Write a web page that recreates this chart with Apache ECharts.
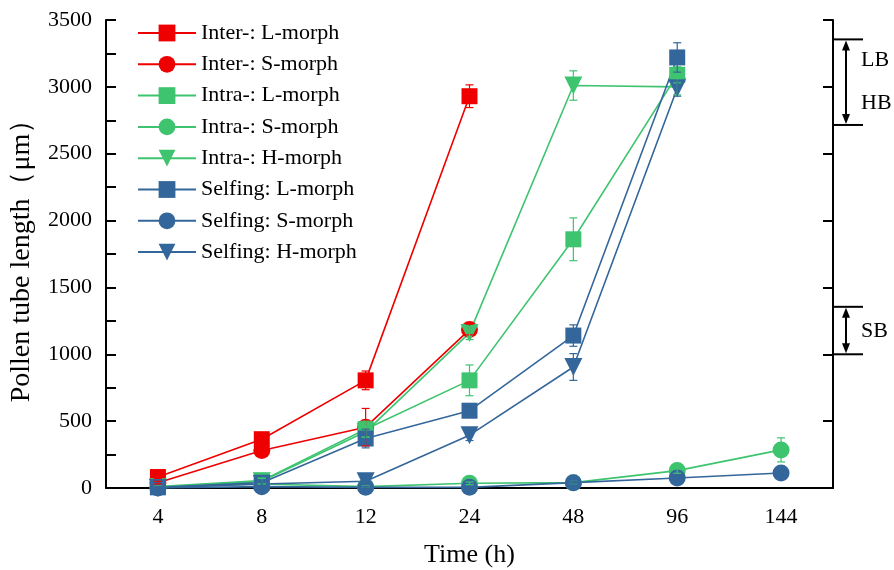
<!DOCTYPE html>
<html><head><meta charset="utf-8">
<script src="https://cdn.jsdelivr.net/npm/echarts@6/dist/echarts.min.js"></script>
<style>html,body{margin:0;padding:0;background:#fff}#c{width:894px;height:570px}</style>
</head><body><div id="c"></div>
<script>
const categories = ['4','8','12','24','48','96','144'];
const yTicks = [0,500,1000,1500,2000,2500,3000,3500];

const interL = [82, 365, 805, 2930];
const interS = [40, 280, 455, 1185];
const intraL = [10, 55, 440, 805, 1860, 3090];
const intraS = [5, 30, 10, 35, 40, 130, 285];
const intraH = [5, 50, 420, 1160, 3010, 3000];
const selfL = [5, 40, 370, 578, 1140, 3220];
const selfS = [0, 10, 5, 5, 40, 75, 112];
const selfH = [0, 30, 50, 395, 905, 2990];

const interLErr = [10, 30, 70, 85];
const interSErr = [10, 20, 140, 40];
const intraLErr = [5, 20, 60, 115, 160, 60];
const intraSErr = [2, 5, 5, 10, 10, 20, 90];
const intraHErr = [5, 20, 40, 50, 110, 60];
const selfLErr = [5, 20, 70, 30, 80, 110];
const selfSErr = [2, 5, 5, 5, 10, 15, 20];
const selfHErr = [2, 10, 20, 40, 100, 60];

const brackets = [
  {name: 'LB/HB', lo: 2715, hi: 3355, labels: [['LB', 3200], ['HB', 2880]]},
  {name: 'SB', lo: 1000, hi: 1355, labels: [['SB', 1170]]}
];

const RED = '#EE0000', GREEN = '#3EC46F', BLUE = '#33669A';
const FONT = '"Liberation Serif","Times New Roman",serif';

const seriesDefs = [
  {name: 'Inter-: L-morph', data: interL, err: interLErr, color: RED, symbol: 'rect', size: 16, rot: 0},
  {name: 'Inter-: S-morph', data: interS, err: interSErr, color: RED, symbol: 'circle', size: 17, rot: 0},
  {name: 'Intra-: L-morph', data: intraL, err: intraLErr, color: GREEN, symbol: 'rect', size: 16, rot: 0},
  {name: 'Intra-: S-morph', data: intraS, err: intraSErr, color: GREEN, symbol: 'circle', size: 17, rot: 0},
  {name: 'Intra-: H-morph', data: intraH, err: intraHErr, color: GREEN, symbol: 'triangle', size: 18, rot: 180},
  {name: 'Selfing: L-morph', data: selfL, err: selfLErr, color: BLUE, symbol: 'rect', size: 16, rot: 0},
  {name: 'Selfing: S-morph', data: selfS, err: selfSErr, color: BLUE, symbol: 'circle', size: 17, rot: 0},
  {name: 'Selfing: H-morph', data: selfH, err: selfHErr, color: BLUE, symbol: 'triangle', size: 18, rot: 180}
];

const series = [];
seriesDefs.forEach(d => {
  series.push({
    name: d.name, type: 'line', data: d.data, color: d.color,
    symbol: d.symbol, symbolSize: d.size, symbolRotate: d.rot,
    lineStyle: {width: 1.6, color: d.color}, itemStyle: {color: d.color},
    showAllSymbol: true, z: 3
  });
});
seriesDefs.forEach(d => {
  series.push({
    type: 'custom', name: d.name + ' err', z: 4, silent: true,
    data: d.data.map((v, i) => [i, v, d.err[i]]),
    renderItem: function (params, api) {
      const i = api.value(0), v = api.value(1), e = api.value(2);
      const top = api.coord([i, v + e]);
      const bot = api.coord([i, v - e]);
      const cw = 4;
      const st = {stroke: d.color, lineWidth: 1.2};
      return {type: 'group', children: [
        {type: 'line', shape: {x1: top[0], y1: top[1], x2: bot[0], y2: bot[1]}, style: st},
        {type: 'line', shape: {x1: top[0]-cw, y1: top[1], x2: top[0]+cw, y2: top[1]}, style: st},
        {type: 'line', shape: {x1: bot[0]-cw, y1: bot[1], x2: bot[0]+cw, y2: bot[1]}, style: st}
      ]};
    }
  });
});

const chart = echarts.init(document.getElementById('c'), null, {renderer: 'canvas'});
const GRID = {left: 106, right: 61, top: 20, bottom: 82, containLabel: false, outerBoundsMode: 'none'};
chart.setOption({
  animation: false,
  backgroundColor: '#fff',
  textStyle: {fontFamily: FONT},
  grid: GRID,
  legend: {
    data: seriesDefs.map(d => d.name),
    orient: 'vertical', left: 132, top: 17,
    itemWidth: 58, itemHeight: 21, itemGap: 9.3,
    textStyle: {fontFamily: FONT, fontSize: 22, color: '#000'},
    selectedMode: false
  },
  xAxis: {
    type: 'category', data: categories, boundaryGap: true,
    name: 'Time (h)', nameLocation: 'middle', nameGap: 54,
    nameTextStyle: {fontFamily: FONT, fontSize: 26, color: '#000'},
    axisLine: {lineStyle: {color: '#000', width: 2}},
    axisTick: {alignWithLabel: true, length: 10, lineStyle: {color: '#000', width: 2}},
    axisLabel: {fontFamily: FONT, fontSize: 22, color: '#000', margin: 18},
    splitLine: {show: false}
  },
  yAxis: [{
    type: 'value', min: yTicks[0], max: yTicks[yTicks.length-1], interval: 500,
    name: 'Pollen tube length（μm）', nameLocation: 'middle', nameGap: 70,
    nameTextStyle: {fontFamily: FONT, fontSize: 28, color: '#000'},
    axisLine: {show: true, lineStyle: {color: '#000', width: 2}},
    axisTick: {show: true, inside: true, length: 10, lineStyle: {color: '#000', width: 2}},
    minorTick: {show: true, splitNumber: 2, length: 10, lineStyle: {color: '#000', width: 2}},
    axisLabel: {fontFamily: FONT, fontSize: 22, color: '#000', margin: 14, formatter: v => String(v)},
    splitLine: {show: false}
  }, {
    type: 'value', position: 'right', min: yTicks[0], max: yTicks[yTicks.length-1], interval: 500,
    axisLine: {show: true, lineStyle: {color: '#000', width: 2}},
    axisTick: {show: true, inside: true, length: 10, lineStyle: {color: '#000', width: 2}},
    axisLabel: {show: false},
    splitLine: {show: false}
  }],
  series: series
});

// bracket annotations beside the right axis
const xr = 894 - GRID.right;
const gfx = [];
const st = {stroke: '#000', lineWidth: 2};
brackets.forEach(b => {
  const yHi = chart.convertToPixel({yAxisIndex: 0}, b.hi);
  const yLo = chart.convertToPixel({yAxisIndex: 0}, b.lo);
  const xa = xr + 13;
  gfx.push({type: 'line', shape: {x1: xr, y1: yHi, x2: xr + 30, y2: yHi}, style: st});
  gfx.push({type: 'line', shape: {x1: xr, y1: yLo, x2: xr + 30, y2: yLo}, style: st});
  gfx.push({type: 'line', shape: {x1: xa, y1: yHi + 6, x2: xa, y2: yLo - 6}, style: st});
  gfx.push({type: 'polygon', shape: {points: [[xa, yHi + 1], [xa - 4, yHi + 11], [xa + 4, yHi + 11]]}, style: {fill: '#000'}});
  gfx.push({type: 'polygon', shape: {points: [[xa, yLo - 1], [xa - 4, yLo - 11], [xa + 4, yLo - 11]]}, style: {fill: '#000'}});
  b.labels.forEach(l => {
    const y = chart.convertToPixel({yAxisIndex: 0}, l[1]);
    gfx.push({type: 'text', x: xr + 28, y: y, style: {text: l[0], font: '22px ' + FONT, fill: '#000', verticalAlign: 'middle', align: 'left'}});
  });
});
chart.setOption({graphic: gfx});
</script>
</body></html>
